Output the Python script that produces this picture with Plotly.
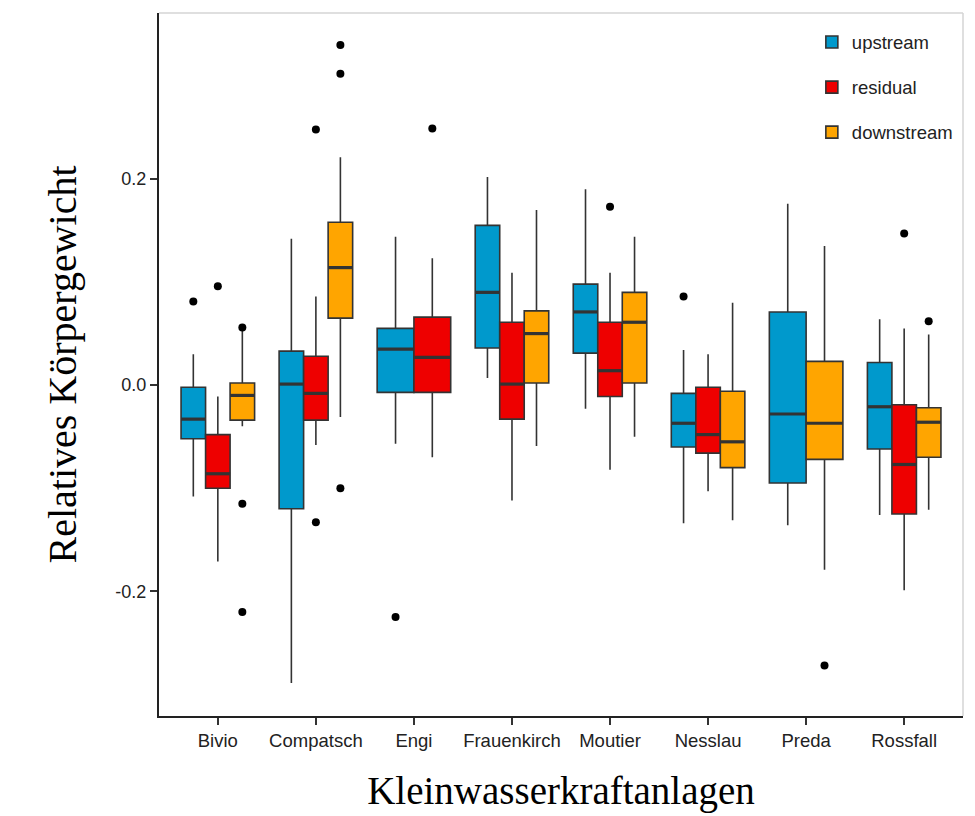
import plotly.graph_objects as go

# ---------------- data ----------------
sites = ["Bivio", "Compatsch", "Engi", "Frauenkirch", "Moutier", "Nesslau", "Preda", "Rossfall"]
groups = ["upstream", "residual", "downstream"]
colors = {"upstream": "#0099CC", "residual": "#EE0000", "downstream": "#FFA500"}

up_q1 = [-0.052, -0.120, -0.007, 0.036, 0.031, -0.060, -0.095, -0.062]
up_med = [-0.033, 0.001, 0.035, 0.090, 0.071, -0.037, -0.028, -0.021]
up_q3 = [-0.002, 0.033, 0.055, 0.155, 0.098, -0.008, 0.071, 0.022]
up_lo = [-0.108, -0.289, -0.057, 0.007, -0.023, -0.134, -0.136, -0.126]
up_hi = [0.030, 0.142, 0.144, 0.202, 0.190, 0.034, 0.176, 0.064]
up_out = [[0.081], [], [-0.225], [], [], [0.086], [], []]

res_q1 = [-0.100, -0.034, -0.007, -0.033, -0.011, -0.066, None, -0.125]
res_med = [-0.086, -0.008, 0.027, 0.001, 0.014, -0.048, None, -0.077]
res_q3 = [-0.048, 0.028, 0.066, 0.061, 0.061, -0.002, None, -0.019]
res_lo = [-0.171, -0.058, -0.070, -0.112, -0.082, -0.103, None, -0.199]
res_hi = [-0.011, 0.086, 0.123, 0.109, 0.109, 0.030, None, 0.055]
res_out = [[0.096], [0.248, -0.133], [0.249], [], [0.173], [], [], [0.147]]

down_q1 = [-0.034, 0.065, None, 0.002, 0.002, -0.080, -0.072, -0.070]
down_med = [-0.010, 0.114, None, 0.050, 0.061, -0.055, -0.037, -0.036]
down_q3 = [0.002, 0.158, None, 0.072, 0.090, -0.006, 0.023, -0.022]
down_lo = [-0.040, -0.031, None, -0.059, -0.050, -0.131, -0.179, -0.121]
down_hi = [0.055, 0.221, None, 0.170, 0.144, 0.080, 0.135, 0.049]
down_out = [[0.056, -0.115, -0.220], [0.330, 0.302, -0.100], [], [], [], [], [-0.272], [0.062]]

y_tickvals = [-0.2, 0.0, 0.2]
y_ticktext = ["-0.2", "0.0", "0.2"]

stats = {
    "upstream": (up_q1, up_med, up_q3, up_lo, up_hi, up_out),
    "residual": (res_q1, res_med, res_q3, res_lo, res_hi, res_out),
    "downstream": (down_q1, down_med, down_q3, down_lo, down_hi, down_out),
}

# ---------------- figure ----------------
fig = go.Figure()
dodge = 0.75
shown = set()
for i, site in enumerate(sites):
    present = [g for g in groups if stats[g][0][i] is not None]
    n = len(present)
    w = dodge / n
    for k, g in enumerate(present):
        q1, med, q3, lo, hi, out = stats[g]
        pos = (i + 1) - dodge / 2 + (k + 0.5) * w
        fig.add_trace(go.Box(
            x=[pos], q1=[q1[i]], median=[med[i]], q3=[q3[i]],
            lowerfence=[lo[i]], upperfence=[hi[i]],
            width=w, whiskerwidth=0, boxpoints=False,
            fillcolor=colors[g], line=dict(color="#333333", width=1.6),
            name=g, legendgroup=g, showlegend=(g not in shown),
        ))
        shown.add(g)
        # thicker median line (as in ggplot)
        fig.add_trace(go.Scatter(
            x=[pos - w / 2, pos + w / 2], y=[med[i], med[i]], mode="lines",
            line=dict(color="#333333", width=3.2),
            legendgroup=g, showlegend=False, hoverinfo="skip",
        ))
        if out[i]:
            fig.add_trace(go.Scatter(
                x=[pos] * len(out[i]), y=out[i], mode="markers",
                marker=dict(color="black", size=8),
                legendgroup=g, showlegend=False, hoverinfo="y",
            ))

fig.update_layout(
    width=975, height=816,
    margin=dict(l=159, r=12, t=13, b=100),
    paper_bgcolor="white", plot_bgcolor="white",
    boxmode="overlay",
    font=dict(family="Liberation Sans, Arial, sans-serif", color="#222222"),
    legend=dict(
        x=0.812, y=0.985, xanchor="left", yanchor="top",
        font=dict(size=18.5, family="Liberation Sans, Arial, sans-serif", color="#222222"),
        bgcolor="rgba(0,0,0,0)", tracegroupgap=18,
    ),
    shapes=[
        dict(type="line", xref="paper", yref="paper", x0=0, x1=1, y0=1, y1=1,
             line=dict(color="#d4d4d4", width=1.5)),
        dict(type="line", xref="paper", yref="paper", x0=1, x1=1, y0=0, y1=1,
             line=dict(color="#d4d4d4", width=1.5)),
    ],
)

fig.update_xaxes(
    range=[0.4, 8.6], tickmode="array", tickvals=list(range(1, len(sites) + 1)), ticktext=sites,
    showgrid=False, zeroline=False, showline=True, linecolor="#222222", linewidth=2,
    ticks="outside", ticklen=7, tickwidth=1.5, tickcolor="#333333",
    tickfont=dict(size=18.5, color="#222222"),
    title=dict(text="Kleinwasserkraftanlagen", standoff=26,
               font=dict(family="Liberation Serif, Times New Roman, serif", size=39, color="black")),
)
fig.update_yaxes(
    range=[-0.321, 0.361], tickmode="array", tickvals=y_tickvals, ticktext=y_ticktext,
    showgrid=False, zeroline=False, showline=True, linecolor="#222222", linewidth=2,
    ticks="outside", ticklen=7, tickwidth=1.5, tickcolor="#333333",
    tickfont=dict(size=18, color="#222222"),
    title=dict(text="Relatives Körpergewicht", standoff=26,
               font=dict(family="Liberation Serif, Times New Roman, serif", size=40, color="black")),
)

fig.write_html("out.html")
